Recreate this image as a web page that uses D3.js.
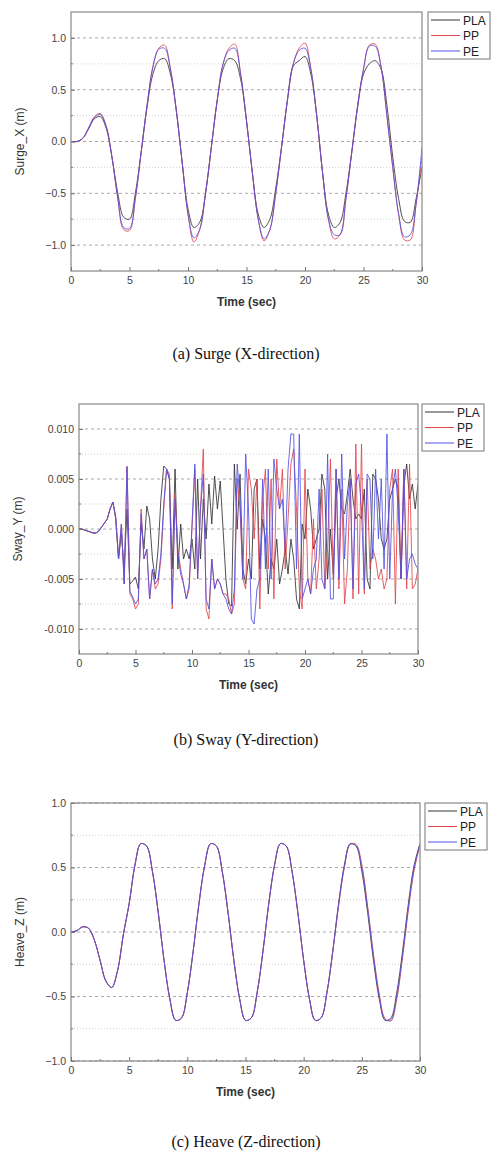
<!DOCTYPE html>
<html>
<head>
<meta charset="utf-8">
<script src="https://cdn.jsdelivr.net/npm/d3@7"></script>
<style>
body { margin: 0; background: #fff; }
svg text { font-family: "Liberation Sans", Arial, sans-serif; }
</style>
</head>
<body>
<div id="chart"></div>
<script>
const W = 498, H = 1160
const seriesNames = ['PLA', 'PP', 'PE']
const colors = ['#333333', '#e0474c', '#5050e6']

// surge, sampled every 0.5 s
const surgeStep = 0.5
const surgePLA = [0,0,0.03,0.12,0.22,0.24,0.13,-0.15,-0.5,-0.73,
  -0.75,-0.5,-0.1,0.33,0.65,0.78,0.8,0.65,0.3,-0.2,
  -0.65,-0.83,-0.78,-0.5,-0.05,0.4,0.7,0.8,0.78,0.6,
  0.2,-0.3,-0.7,-0.83,-0.75,-0.45,-0.05,0.4,0.73,0.78,
  0.82,0.65,0.25,-0.3,-0.7,-0.83,-0.78,-0.5,-0.1,0.33,
  0.65,0.75,0.78,0.7,0.35,-0.15,-0.55,-0.77,-0.78,-0.55,
  -0.25]
const surgePP = [0,0,0.03,0.13,0.24,0.27,0.15,-0.15,-0.55,-0.85,
  -0.86,-0.55,-0.1,0.35,0.72,0.9,0.93,0.7,0.3,-0.2,
  -0.7,-0.97,-0.85,-0.5,-0.05,0.4,0.75,0.9,0.94,0.65,
  0.2,-0.3,-0.75,-0.96,-0.85,-0.5,-0.05,0.4,0.75,0.9,
  0.95,0.7,0.25,-0.3,-0.75,-0.94,-0.9,-0.55,-0.1,0.35,
  0.7,0.93,0.94,0.72,0.25,-0.25,-0.7,-0.95,-0.95,-0.6,
  -0.15]
const surgePE = [0,0,0.03,0.13,0.23,0.26,0.15,-0.15,-0.55,-0.83,
  -0.84,-0.55,-0.1,0.35,0.72,0.89,0.9,0.7,0.3,-0.2,
  -0.7,-0.93,-0.85,-0.5,-0.05,0.4,0.75,0.88,0.9,0.65,
  0.2,-0.3,-0.75,-0.94,-0.85,-0.5,-0.05,0.4,0.75,0.88,
  0.9,0.7,0.25,-0.3,-0.75,-0.9,-0.9,-0.55,-0.1,0.35,
  0.7,0.92,0.92,0.72,0.25,-0.25,-0.7,-0.92,-0.9,-0.6,
  -0.05]

// sway, sampled every 0.25 s, in units of 0.001 m
const swayStep = 0.25
const swayPLA = [0,0,-0.1,-0.2,-0.3,-0.4,-0.4,-0.2,0.2,0.6,
  1.0,2.0,2.7,1.0,-3.0,-0.5,-4.0,2.0,-5.5,-5.2,
  -4.8,-6.0,0.5,-2.0,2.3,1.0,-3.0,-5.0,-2.0,3.0,
  6.3,6.0,5.0,-4.0,6.0,-4.0,0.5,-3.0,-2.0,-3.0,
  -1.0,-4.0,5.0,-3.0,3.0,-1.0,4.5,0.5,5.3,2.0,
  4.8,0.0,-5.0,-7.5,-7.7,6.5,0.0,5.5,-4.0,-5.5,
  -3.0,-5.0,4.0,5.0,-4.0,1.0,-1.0,-6.5,-3.0,-4.0,
  -1.0,-5.5,-4.0,-2.0,-4.5,-1.0,-3.0,-7.0,-8.0,0.5,
  -1.0,4.0,2.0,-2.0,-1.0,0.0,5.5,4.0,-5.0,0.0,
  -4.5,3.0,5.0,2.0,1.5,3.5,6.0,3.0,1.0,1.5,
  1.0,4.0,-5.0,-6.0,5.5,5.0,3.0,-1.0,-2.0,-1.0,
  3.0,4.0,5.0,4.0,-5.0,4.5,6.5,3.0,4.5,2.0,
  4.5]
const swayPP = [0,0,-0.1,-0.2,-0.3,-0.4,-0.4,-0.2,0.2,0.6,
  1.0,2.0,2.7,1.2,-3.0,0.5,-5.5,6.3,-6.5,-7.0,
  -8.0,-7.5,2.0,-3.0,-2.0,-7.0,-4.0,-6.0,-5.5,-3.0,
  2.0,6.0,5.5,-8.0,3.5,-2.0,-4.0,-5.5,-7.0,-6.0,
  0.0,6.0,-5.0,2.0,8.0,-8.0,-9.0,-3.0,-6.0,-5.0,
  -5.5,-6.5,-6.5,-7.0,-8.5,-7.5,5.0,2.0,-5.0,-6.0,
  6.0,4.0,-1.0,5.0,-8.0,3.0,6.0,-4.0,5.0,-7.0,
  7.0,2.0,6.0,-4.0,1.0,6.5,8.0,2.0,-6.0,-8.0,
  6.0,-5.0,-6.5,1.0,-6.0,-3.0,4.0,-6.0,-2.0,7.0,
  -5.0,6.0,-6.0,4.0,-7.5,-4.0,5.0,-7.0,8.5,-6.5,
  8.5,-6.5,5.0,-4.0,-2.0,-3.0,-5.0,-4.0,-6.0,-5.0,
  4.0,6.0,-7.5,6.0,-5.0,6.0,-6.0,6.5,-6.0,-5.5,
  -4.0]
const swayPE = [0,0,-0.1,-0.2,-0.3,-0.4,-0.4,-0.2,0.2,0.6,
  1.0,2.0,2.7,1.2,-3.0,0.5,-5.5,6.2,-6.2,-6.8,
  -7.5,-7.0,1.5,-3.0,-2.0,-7.0,-4.0,-5.5,-5.0,-2.5,
  2.5,6.0,5.0,-7.5,3.0,-2.5,-4.5,-5.5,-7.0,-5.5,
  0.5,6.5,-5.0,2.0,5.5,-7.0,-8.0,-3.0,-6.0,-5.0,
  -5.5,-6.5,-7.0,-8.0,-8.5,-6.0,6.5,3.0,-5.0,7.5,
  2.0,-9.0,-9.5,-6.0,-5.0,5.0,-4.0,6.0,-5.0,7.0,
  4.0,2.0,3.0,-2.0,6.0,9.5,9.5,-4.0,9.5,-7.0,
  -6.0,-5.0,-6.5,-4.0,-3.0,4.0,-5.0,-6.0,7.5,-7.0,
  -7.0,6.0,-5.0,7.5,-3.0,2.5,5.0,-6.0,4.5,5.5,
  2.0,-6.0,5.5,5.0,-3.0,6.0,-1.0,5.0,-4.0,9.5,
  -5.0,4.0,6.0,2.0,-5.0,6.0,-5.0,-3.0,-2.5,-3.5,
  -4.0]

// heave, sampled every 0.5 s
const heaveStep = 0.5
const heavePLA = [0,0.01,0.04,0.03,-0.06,-0.22,-0.38,-0.43,-0.3,-0.02,
  0.22,0.52,0.685,0.666,0.47,0.15,-0.22,-0.52,-0.685,-0.666,
  -0.47,-0.15,0.22,0.52,0.685,0.666,0.47,0.15,-0.22,-0.52,
  -0.685,-0.666,-0.47,-0.15,0.22,0.52,0.685,0.666,0.47,0.15,
  -0.22,-0.52,-0.685,-0.666,-0.47,-0.15,0.22,0.52,0.685,0.666,
  0.47,0.15,-0.22,-0.52,-0.685,-0.666,-0.47,-0.15,0.22,0.52,
  0.685]
const heavePP = [0,0.01,0.04,0.03,-0.06,-0.22,-0.38,-0.43,-0.3,-0.02,
  0.22,0.52,0.685,0.666,0.47,0.15,-0.22,-0.52,-0.685,-0.666,
  -0.47,-0.15,0.22,0.52,0.685,0.666,0.47,0.15,-0.22,-0.52,
  -0.685,-0.666,-0.47,-0.15,0.22,0.52,0.685,0.666,0.47,0.15,
  -0.22,-0.52,-0.685,-0.666,-0.47,-0.15,0.2,0.5,0.68,0.68,
  0.52,0.2,-0.17,-0.48,-0.67,-0.69,-0.52,-0.2,0.17,0.48,
  0.67]
const heavePE = [0,0.01,0.04,0.03,-0.06,-0.22,-0.38,-0.43,-0.3,-0.02,
  0.22,0.52,0.685,0.666,0.47,0.15,-0.22,-0.52,-0.685,-0.666,
  -0.47,-0.15,0.22,0.52,0.685,0.666,0.47,0.15,-0.22,-0.52,
  -0.685,-0.666,-0.47,-0.15,0.22,0.52,0.685,0.666,0.47,0.15,
  -0.22,-0.52,-0.685,-0.666,-0.47,-0.15,0.21,0.51,0.68,0.67,
  0.5,0.18,-0.19,-0.5,-0.68,-0.68,-0.5,-0.18,0.19,0.5,
  0.68]

const xTicks = [0, 5, 10, 15, 20, 25, 30]

const svg = d3.select('#chart').append('svg')
    .attr('width', W)
    .attr('height', H)

function drawPanel(p) {
    const x = d3.scaleLinear().domain([0, 30]).range([p.left, p.right])
    const y = d3.scaleLinear().domain(p.yDomain).range([p.bottom, p.top])
    const g = svg.append('g')

    // grid: minor dotted, major dashed
    g.selectAll('.minor').data(p.minorGrid).enter().append('line')
        .attr('x1', p.left).attr('x2', p.right)
        .attr('y1', d => y(d)).attr('y2', d => y(d))
        .attr('stroke', '#d4d4d4').attr('stroke-dasharray', '1,2')
    g.selectAll('.major').data(p.yTicks).enter().append('line')
        .attr('x1', p.left).attr('x2', p.right)
        .attr('y1', d => y(d)).attr('y2', d => y(d))
        .attr('stroke', '#aaa').attr('stroke-dasharray', '3,3')

    const line = d3.line()
        .x((d, i) => x(i * p.step))
        .y(d => y(d))
        .curve(p.curve)
    const clipId = 'clip' + p.id
    svg.append('clipPath').attr('id', clipId).append('rect')
        .attr('x', p.left).attr('y', p.top)
        .attr('width', p.right - p.left).attr('height', p.bottom - p.top)
    const lines = g.append('g').attr('clip-path', `url(#${clipId})`)
    // Origin draws in plot order: PLA first, PE last (on top)
    p.series.forEach((s, i) => {
        lines.append('path').datum(s)
            .attr('d', line)
            .attr('fill', 'none')
            .attr('stroke', colors[i])
            .attr('stroke-width', 1)
            .attr('opacity', 0.85)
    })
    // frame
    g.append('rect')
        .attr('x', p.left).attr('y', p.top)
        .attr('width', p.right - p.left).attr('height', p.bottom - p.top)
        .attr('fill', 'none').attr('stroke', '#888').attr('stroke-width', 1.2)

    const xAxis = d3.axisBottom(x).tickValues(xTicks).tickSize(-4).tickPadding(6)
    const gx = g.append('g').attr('transform', `translate(0,${p.bottom})`).call(xAxis)
    const yAxis = d3.axisLeft(y).tickValues(p.yTicks).tickSize(-4).tickPadding(5)
        .tickFormat(p.fmt)
    const gy = g.append('g').attr('transform', `translate(${p.left},0)`).call(yAxis)
    ;[gx, gy].forEach(a => {
        a.select('.domain').remove()
        a.selectAll('line').attr('stroke', '#777')
        a.selectAll('text').attr('fill', '#444').style('font-size', '10.5px')
    })
    // minor ticks
    g.selectAll('.mx').data(xTicks.slice(0, -1)).enter().append('line')
        .attr('x1', d => x(d + 2.5)).attr('x2', d => x(d + 2.5))
        .attr('y1', p.bottom).attr('y2', p.bottom - 2)
        .attr('stroke', '#777')
    g.selectAll('.my').data(p.minorGrid).enter().append('line')
        .attr('x1', p.left).attr('x2', p.left + 2)
        .attr('y1', d => y(d)).attr('y2', d => y(d))
        .attr('stroke', '#777')

    g.append('text').attr('x', (p.left + p.right) / 2).attr('y', p.bottom + 35)
        .attr('text-anchor', 'middle').attr('fill', '#333')
        .style('font-size', '12px').style('font-weight', 'bold')
        .text('Time (sec)')
    g.append('text')
        .attr('transform', `translate(${p.yLabelX},${(p.top + p.bottom) / 2}) rotate(-90)`)
        .attr('text-anchor', 'middle').attr('fill', '#333')
        .style('font-size', '12px')
        .text(p.yLabel)

    // legend
    const lg = g.append('g').attr('transform', `translate(${p.legX},${p.top})`)
    lg.append('rect').attr('width', 62).attr('height', 47)
        .attr('fill', '#fff').attr('stroke', '#777')
    seriesNames.forEach((n, i) => {
        const yy = 8 + i * 15.5
        lg.append('line').attr('x1', 3).attr('x2', 32).attr('y1', yy).attr('y2', yy)
            .attr('stroke', colors[i])
        lg.append('text').attr('x', 35).attr('y', yy + 4.5)
            .attr('fill', '#222').style('font-size', '12px').text(n)
    })

    svg.append('text').attr('x', 246).attr('y', p.captionY)
        .attr('text-anchor', 'middle')
        .style('font-family', '"Liberation Serif", "Times New Roman", serif')
        .style('font-size', '16px').attr('fill', '#111')
        .text(p.caption)
}

drawPanel({
    id: 'a', left: 71, right: 422, top: 12, bottom: 271,
    yDomain: [-1.25, 1.25], yTicks: [-1, -0.5, 0, 0.5, 1],
    minorGrid: [-0.75, -0.25, 0.25, 0.75],
    fmt: d3.format('.1f'), step: surgeStep, curve: d3.curveCatmullRom,
    series: [surgePLA, surgePP, surgePE],
    yLabel: 'Surge_X (m)', yLabelX: 24, legX: 428,
    caption: '(a) Surge (X-direction)', captionY: 359
})
drawPanel({
    id: 'b', left: 79, right: 418, top: 404, bottom: 654,
    yDomain: [-12.5, 12.5], yTicks: [-10, -5, 0, 5, 10],
    minorGrid: [-7.5, -2.5, 2.5, 7.5],
    fmt: d => (d / 1000).toFixed(3), step: swayStep, curve: d3.curveLinear,
    series: [swayPLA, swayPP, swayPE],
    yLabel: 'Sway_Y (m)', yLabelX: 22, legX: 422,
    caption: '(b) Sway (Y-direction)', captionY: 745
})
drawPanel({
    id: 'c', left: 71, right: 420, top: 803, bottom: 1061,
    yDomain: [-1, 1], yTicks: [-1, -0.5, 0, 0.5, 1],
    minorGrid: [-0.75, -0.25, 0.25, 0.75],
    fmt: d3.format('.1f'), step: heaveStep, curve: d3.curveCatmullRom,
    series: [heavePLA, heavePP, heavePE],
    yLabel: 'Heave_Z (m)', yLabelX: 24, legX: 425,
    caption: '(c) Heave (Z-direction)', captionY: 1147
})
</script>
</body>
</html>
